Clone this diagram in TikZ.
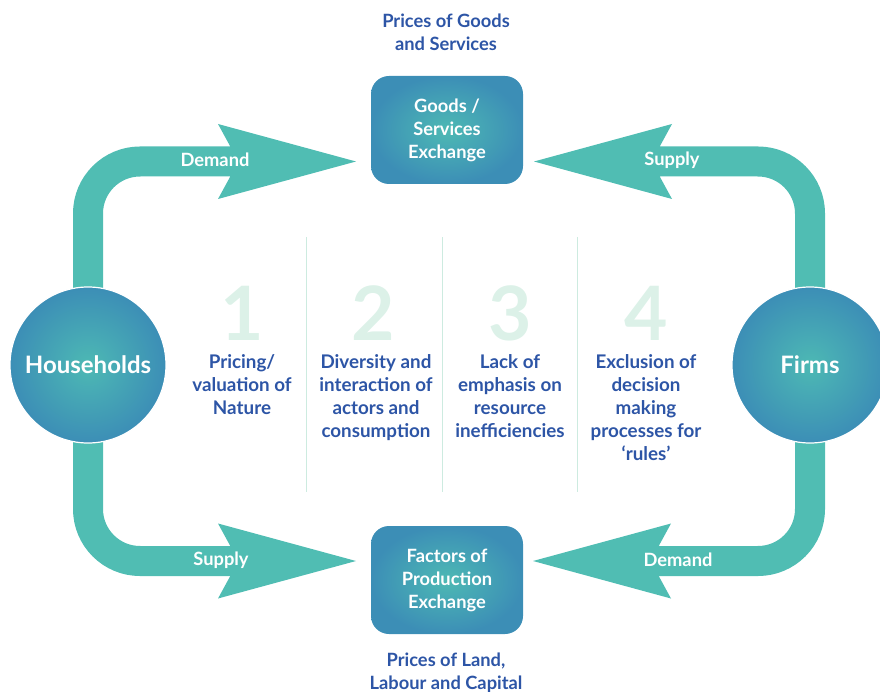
\documentclass[tikz,border=0pt]{standalone}
\usepackage{fontspec}
\setmainfont{Lato}
\usetikzlibrary{calc}
\definecolor{arrowc}{HTML}{50BDB3}
\definecolor{tin}{HTML}{4DB9B4}
\definecolor{tout}{HTML}{3C8EB6}
\definecolor{txtblue}{HTML}{2D55A6}
\definecolor{numc}{HTML}{DCF1E8}
\definecolor{divc}{HTML}{CDEBE0}
\tikzset{
  actor/.style={circle, minimum size=156pt, inner sep=0pt, shading=radial, inner color=tin, outer color=tout,
    draw=white, line width=1.2pt, text=white, font=\bfseries\fontsize{24}{28}\selectfont},
  xbox/.style={rectangle, rounded corners=18pt, minimum width=152pt, minimum height=108pt, inner sep=0pt,
    shading=radial, inner color=tin, outer color=tout, text=white, align=center,
    font=\bfseries\fontsize{18.3}{23}\selectfont},
  shaft/.style={draw=arrowc, line width=30pt, rounded corners=52pt},
  headr/.pic={\fill[arrowc] (0,0) -- (-138,-37.5) -- (-126,-15.5) -- (-126,15.5) -- (-138,37.5) -- cycle;},
  headl/.pic={\fill[arrowc] (0,0) -- (138,-37.5) -- (126,-15.5) -- (126,15.5) -- (138,37.5) -- cycle;},
  flowlbl/.style={text=white, font=\bfseries\fontsize{18.3}{22}\selectfont},
  bluelbl/.style={text=txtblue, align=center, font=\bfseries\fontsize{18.3}{23}\selectfont},
  numlbl/.style={text=numc, anchor=base, inner sep=0pt, font=\bfseries\fontsize{75}{80}\selectfont},
  coltxt/.style={text=txtblue, align=center, anchor=north, inner sep=0pt, font=\bfseries\fontsize{18.8}{23}\selectfont},
  divider/.style={draw=divc, line width=1pt}
}
\begin{document}
\begin{tikzpicture}[x=1pt,y=-1pt]
\useasboundingbox (0,0) rectangle (880,692);
% exchange boxes
\node[xbox] (goods) at (447,130) {Goods /\\Services\\Exchange};
\node[xbox] (factors) at (447,580) {Factors of\\Production\\Exchange};
% anchor coordinates for arrows
\coordinate (hh) at (88,365);
\coordinate (fi) at (810,365);
\coordinate (tipGL) at (356,161.5);
\coordinate (tipGR) at (534,161.5);
\coordinate (tipFL) at (356,561);
\coordinate (tipFR) at (533,561);
% shafts
\draw[shaft] (hh) |- ($(tipGL)+(-124,0)$);
\draw[shaft] (fi) |- ($(tipGR)+(124,0)$);
\draw[shaft] (hh) |- ($(tipFL)+(-124,0)$);
\draw[shaft] (fi) |- ($(tipFR)+(124,0)$);
% heads
\pic at (tipGL) {headr};
\pic at (tipFL) {headr};
\pic at (tipGR) {headl};
\pic at (tipFR) {headl};
% actors
\node[actor] (households) at (hh) {Households};
\node[actor] (firms) at (fi) {Firms};
% flow labels
\node[flowlbl] (d1) at (215,160) {Demand};
\node[flowlbl] (s1) at (672,160) {Supply};
\node[flowlbl] (s2) at (221,560) {Supply};
\node[flowlbl] (d2) at (678,560) {Demand};
% price labels
\node[bluelbl] (pg) at (446,32) {Prices of Goods\\and Services};
\node[bluelbl] (pl) at (446,673) {Prices of Land,\\Labour and Capital};
% dividers
\draw[divider] (306,237) -- (306,492);
\draw[divider] (442,237) -- (442,492);
\draw[divider] (577,237) -- (577,492);
% numbers
\node[numlbl] (n1) at (242,340) {1};
\node[numlbl] (n2) at (373,340) {2};
\node[numlbl] (n3) at (510,340) {3};
\node[numlbl] (n4) at (646,340) {4};
% column texts
\node[coltxt] (c1) at (242,354) {Pricing/\\valuation of\\Nature};
\node[coltxt] (c2) at (376,354) {Diversity and\\interaction of\\actors and\\consumption};
\node[coltxt] (c3) at (510,354) {Lack of\\emphasis on\\resource\\inefficiencies};
\node[coltxt] (c4) at (646,354) {Exclusion of\\decision\\making\\processes for\\‘rules’};
\end{tikzpicture}
\end{document}
